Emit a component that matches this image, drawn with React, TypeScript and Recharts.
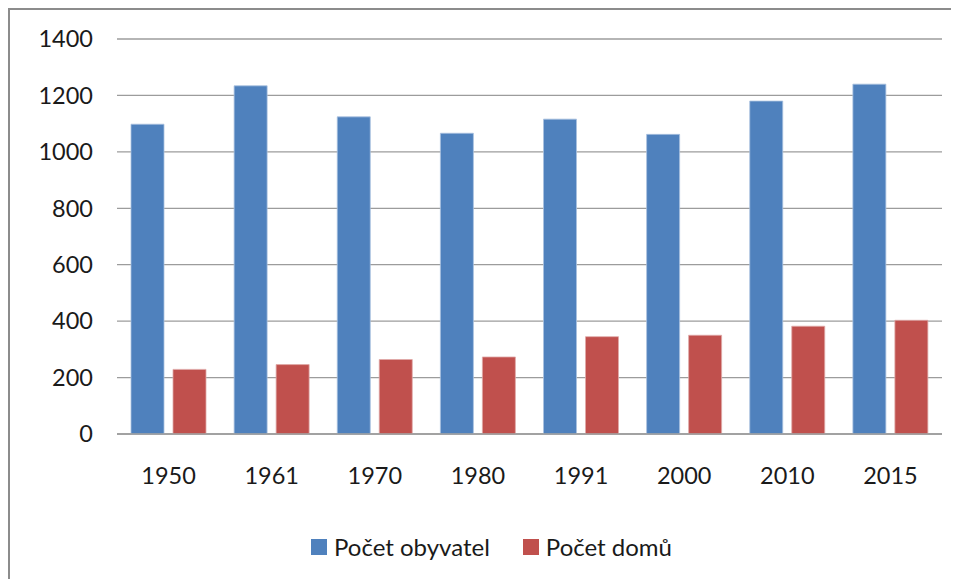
import React from "react";
import { BarChart, Bar, XAxis, YAxis, CartesianGrid, Legend } from "recharts";

const years = ["1950", "1961", "1970", "1980", "1991", "2000", "2010", "2015"];
const obyvatel = [1098, 1234, 1124, 1066, 1116, 1062, 1180, 1240];
const domu = [229, 246, 264, 273, 345, 350, 382, 403];
const yTicks = [0, 200, 400, 600, 800, 1000, 1200, 1400];

const data = years.map((y, i) => ({ year: y, obyvatel: obyvatel[i], domu: domu[i] }));

const FONT = "Lato, 'Noto Sans', sans-serif";

const legendItems = [
  { label: "Počet obyvatel", color: "#4F81BD" },
  { label: "Počet domů", color: "#C0504D" },
];

const LegendContent = () => (
  <div
    style={{
      display: "flex",
      justifyContent: "center",
      alignItems: "center",
      paddingLeft: 14,
      fontFamily: FONT,
      fontSize: 24,
      color: "#1a1a1a",
    }}
  >
    {legendItems.map((it, i) => (
      <div key={it.label} style={{ display: "flex", alignItems: "center", marginLeft: i === 0 ? 0 : 33 }}>
        <span style={{ display: "inline-block", width: 16, height: 16, background: it.color, marginRight: 7 }} />
        <span>{it.label}</span>
      </div>
    ))}
  </div>
);

export default function App() {
  return (
    <div
      style={{
        position: "relative",
        width: 949,
        height: 569,
        borderLeft: "2px solid #8c8c8c",
        borderTop: "2px solid #8c8c8c",
        background: "#fff",
      }}
    >
      <BarChart
        width={949}
        height={569}
        data={data}
        margin={{ top: 29, right: 17, left: 24, bottom: 0 }}
        barCategoryGap={14}
        barGap={9}
      >
        <CartesianGrid vertical={false} stroke="#9c9c9c" strokeWidth={1.3} />
        <XAxis
          dataKey="year"
          axisLine={{ stroke: "#9c9c9c", strokeWidth: 1.3 }}
          tickLine={false}
          tickSize={0}
          tickMargin={33}
          height={116}
          tick={{ fill: "#1a1a1a", fontFamily: FONT, fontSize: 23.5 }}
        />
        <YAxis
          domain={[0, 1400]}
          ticks={yTicks}
          width={83}
          axisLine={false}
          tickLine={false}
          tickSize={0}
          tickMargin={24}
          tick={{ fill: "#1a1a1a", fontFamily: FONT, fontSize: 23.5 }}
        />
        <Legend
          verticalAlign="bottom"
          content={<LegendContent />}
          wrapperStyle={{ top: 522, left: 0, width: 949 }}
        />
        <Bar dataKey="obyvatel" fill="#4F81BD" stroke="#a9c2e0" strokeWidth={0.8} isAnimationActive={false} />
        <Bar dataKey="domu" fill="#C0504D" stroke="#e0a9a8" strokeWidth={0.8} isAnimationActive={false} />
      </BarChart>
    </div>
  );
}
